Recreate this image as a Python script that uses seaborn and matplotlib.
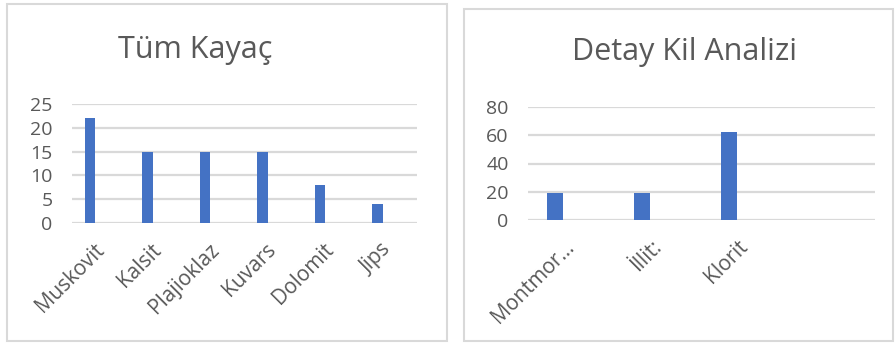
import numpy as np
import pandas as pd
import matplotlib
matplotlib.use("Agg")
import matplotlib.pyplot as plt
from matplotlib.patches import Rectangle
import seaborn as sns

# ── Veriler ───────────────────────────────────────────────────────────────────
tum_kategoriler = ["Muskovit", "Kalsit", "Plajioklaz", "Kuvars", "Dolomit", "Jips"]
tum_degerler = [22, 15, 15, 15, 8, 4]
tum_yticks = [0, 5, 10, 15, 20, 25]

kil_kategoriler = ["Montmor…", "İllit:", "Klorit", " "]
kil_degerler = [19, 19, 62, np.nan]
kil_yticks = [0, 20, 40, 60, 80]

# Excel grafiğindeki boş seriler (yalnız Seri 1 dolu)
seriler = ["Seri 1", "Seri 2", "Seri 3"]

MAVI = "#4472C4"
GRI_YAZI = "#595959"
GRI_CIZGI = "#D9D9D9"

sns.set_theme(style="white")
plt.rcParams["font.family"] = ["Open Sans", "DejaVu Sans"]

W, H = 896, 345
fig = plt.figure(figsize=(W / 100, H / 100), dpi=100)


def px_rect(x0, y0, x1, y1):
    # piksel (üst-sol köşe) → figür oranı [sol, alt, genişlik, yükseklik]
    return [x0 / W, 1 - y1 / H, (x1 - x0) / W, (y1 - y0) / H]


def uzun_tablo(kategoriler, degerler):
    satirlar = []
    for k, v in zip(kategoriler, degerler):
        for s in seriler:
            satirlar.append({"kategori": k, "seri": s,
                             "deger": v if s == "Seri 1" else np.nan})
    return pd.DataFrame(satirlar)


def ciz(ax, kategoriler, degerler, yticks):
    df = uzun_tablo(kategoriler, degerler)
    sns.barplot(data=df, x="kategori", y="deger", hue="seri",
                order=kategoriler, hue_order=seriler,
                palette=[MAVI] * len(seriler), saturation=1,
                width=0.56, dodge=True,
                errorbar=None, legend=False, linewidth=0, ax=ax)
    ax.set_xlim(-0.5, len(kategoriler) - 0.5)
    ax.set_ylim(yticks[0], yticks[-1])
    ax.set_yticks(yticks)
    ax.yaxis.grid(True, color=GRI_CIZGI, linewidth=1.6)
    ax.set_axisbelow(True)
    for s in ax.spines.values():
        s.set_visible(False)
    ax.set_xlabel("")
    ax.set_ylabel("")
    ax.tick_params(axis="both", length=0, labelcolor=GRI_YAZI)
    ax.tick_params(axis="y", pad=14, labelsize=14)
    ax.tick_params(axis="x", pad=17, labelsize=15)
    for lbl in ax.get_xticklabels():
        lbl.set_rotation(45)
        lbl.set_ha("right")
        lbl.set_va("center")
        lbl.set_rotation_mode("anchor")


# Panel çerçeveleri
for (x0, y0, x1, y1) in [(7, 4, 447, 341), (464, 9, 893, 341)]:
    l, b, w, h = px_rect(x0, y0, x1, y1)
    fig.patches.append(Rectangle((l, b), w, h, transform=fig.transFigure,
                                 fill=False, edgecolor=GRI_CIZGI, linewidth=1.5))

ax1 = fig.add_axes(px_rect(72, 104, 417, 223))
ciz(ax1, tum_kategoriler, tum_degerler, tum_yticks)

ax2 = fig.add_axes(px_rect(528, 107, 875, 220))
ciz(ax2, kil_kategoriler, kil_degerler, kil_yticks)

fig.text(195 / W, 1 - 50 / H, "Tüm Kayaç", ha="center", va="center",
         fontsize=22, color=GRI_YAZI)
fig.text(684 / W, 1 - 52 / H, "Detay Kil Analizi", ha="center", va="center",
         fontsize=22, color=GRI_YAZI)

fig.savefig("out.png", dpi=100)
